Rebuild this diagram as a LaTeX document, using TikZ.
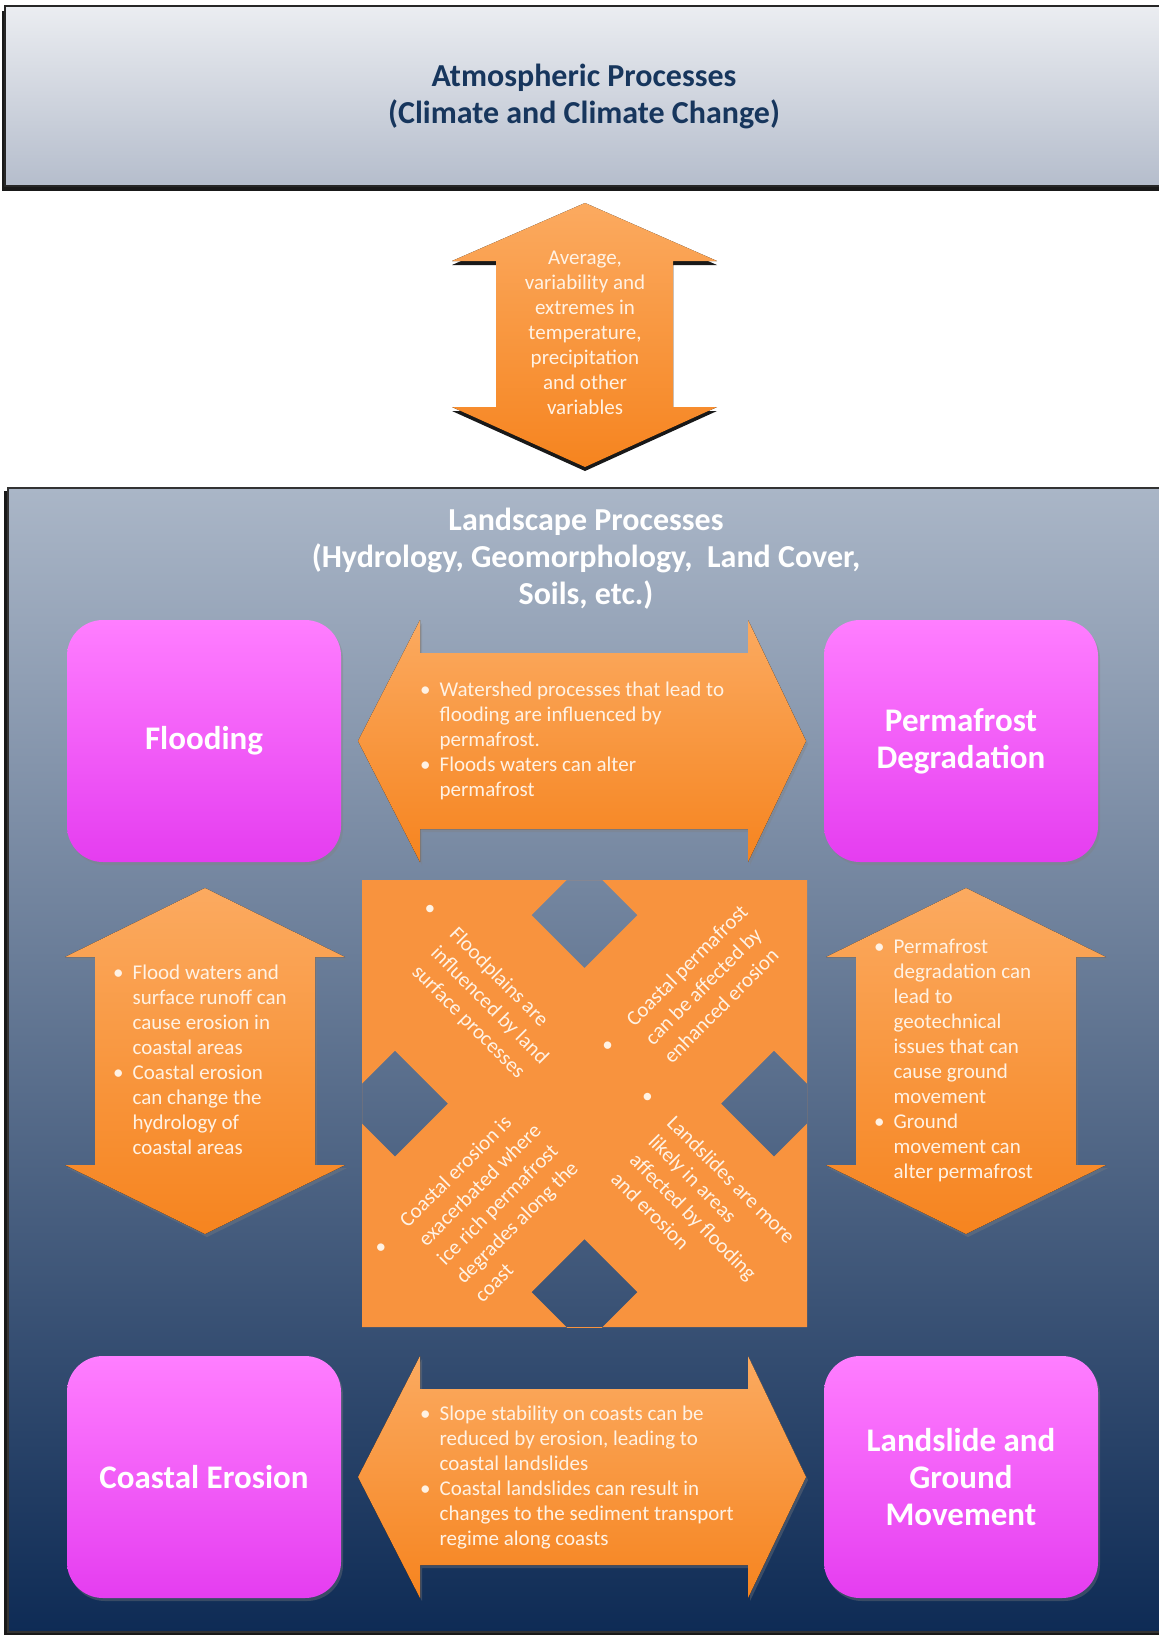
\documentclass[tikz,border=0pt]{standalone}
\usepackage{fontspec}
\setmainfont{Carlito}
\usetikzlibrary{shadows}

\definecolor{navytext}{HTML}{17365D}
\definecolor{atmtop}{HTML}{EBEDF1}
\definecolor{atmbot}{HTML}{B5BDCC}
\definecolor{landtop}{HTML}{AAB6C7}
\definecolor{landbot}{HTML}{0E2B55}
\definecolor{magtop}{HTML}{FF7EFF}
\definecolor{magbot}{HTML}{E53DF0}
\definecolor{orgtop}{HTML}{FBAA60}
\definecolor{orgbot}{HTML}{F6841F}
\definecolor{xorange}{HTML}{F8933E}
\definecolor{arrowtxt}{HTML}{FFF2E4}

\newcommand{\blist}[2]{\begin{tabular}{@{}l@{\hspace{#1}}l@{}}#2\end{tabular}}

\tikzset{
  titletext/.style={font=\bfseries\fontsize{32}{37}\selectfont, align=center},
  softshadow/.style={drop shadow={shadow xshift=2pt, shadow yshift=-3pt, opacity=.35}},
  hardshadow/.style={drop shadow={shadow xshift=0pt, shadow yshift=-4pt, opacity=.9, fill=black}},
  magbox/.style={rounded corners=36pt, top color=magtop, bottom color=magbot, softshadow,
    minimum width=274pt, minimum height=242pt, text=white,
    font=\bfseries\fontsize{33}{37}\selectfont, align=center},
  orangearrow/.style={top color=orgtop, bottom color=orgbot},
  arrowtext/.style={font=\fontsize{21}{25}\selectfont, text=arrowtxt, inner sep=0pt},
  xtext/.style={font=\fontsize{21}{26.5}\selectfont, text=arrowtxt, inner sep=0pt},
}

\begin{document}
\begin{tikzpicture}[x=1pt, y=-1pt]
  \useasboundingbox (0,0) rectangle (1159,1636);
  \fill[white] (0,0) rectangle (1159,1636);

  % atmosphere box
  \node[draw=black!85, line width=2pt, top color=atmtop, bottom color=atmbot,
    drop shadow={shadow xshift=-3pt, shadow yshift=-5pt, opacity=.9, fill=black},
    minimum width=1158pt, minimum height=180pt, text=navytext, titletext] (atmos) at (584,96)
    {Atmospheric Processes\\(Climate and Climate Change)};

  % landscape box
  \draw[draw=black!80, line width=2pt, top color=landtop, bottom color=landbot,
    drop shadow={shadow xshift=-4pt, shadow yshift=-3pt, opacity=.9, fill=black}]
    (8,488) rectangle (1170,1632);
  \node[titletext, text=white] (land) at (586,559)
    {Landscape Processes\\(Hydrology, Geomorphology,\ \ Land Cover,\\Soils, etc.)};

  % the four processes
  \node[magbox] (flood) at (204,741) {Flooding};
  \node[magbox] (perma) at (961,741) {Permafrost\\Degradation};
  \node[magbox] (coast) at (204,1477) {Coastal Erosion};
  \node[magbox] (slide) at (961,1477) {Landslide and\\Ground\\Movement};

  % climate arrow
  \fill[orangearrow, hardshadow] (585,203) -- (717,261) -- (673,261) -- (673,407) -- (717,407)
    -- (585,467) -- (452,407) -- (496,407) -- (496,261) -- (452,261) -- cycle;
  \node[arrowtext, align=center] (climvar) at (585,333)
    {Average,\\variability and\\extremes in\\temperature,\\precipitation\\and other\\variables};

  % side arrows
  \foreach \cx in {205,966}
    \fill[orangearrow, softshadow] (\cx,888) -- (\cx+140,957) -- (\cx+110,957) -- (\cx+110,1165)
      -- (\cx+140,1165) -- (\cx,1234) -- (\cx-140,1165) -- (\cx-110,1165) -- (\cx-110,957)
      -- (\cx-140,957) -- cycle;

  % top and bottom arrows
  \foreach \cy in {741,1477}
    \fill[orangearrow, softshadow] (358,\cy) -- (420,\cy-121) -- (420,\cy-88) -- (748,\cy-88)
      -- (748,\cy-121) -- (806,\cy) -- (748,\cy+121) -- (748,\cy+88) -- (420,\cy+88)
      -- (420,\cy+121) -- cycle;

  % cross arrow
  \begin{scope}
    \clip (362,880) rectangle (807,1327);
    \fill[xorange, even odd rule] (362,880) rectangle (807,1327)
      \foreach \cx/\cy in {584.5/915, 584.5/1292, 395/1103.5, 774/1103.5}
        {(\cx,\cy-53) -- ++(53,53) -- ++(-53,53) -- ++(-53,-53) -- cycle};
  \end{scope}

  \node[arrowtext, anchor=west] (watershed) at (420,741)
    {\blist{9pt}{\textbullet & Watershed processes that lead to\\
      & flooding are influenced by\\
      & permafrost.\\
      \textbullet & Floods waters can alter\\
      & permafrost}};
  \node[arrowtext, anchor=west] (slope) at (420,1478)
    {\blist{9pt}{\textbullet & Slope stability on coasts can be\\
      & reduced by erosion, leading to\\
      & coastal landslides\\
      \textbullet & Coastal landslides can result in\\
      & changes to the sediment transport\\
      & regime along coasts}};
  \node[arrowtext, anchor=west] (runoff) at (113,1062)
    {\blist{9pt}{\textbullet & Flood waters and\\
      & surface runoff can\\
      & cause erosion in\\
      & coastal areas\\
      \textbullet & Coastal erosion\\
      & can change the\\
      & hydrology of\\
      & coastal areas}};
  \node[arrowtext, anchor=west] (geotech) at (874,1061)
    {\blist{9pt}{\textbullet & Permafrost\\
      & degradation can\\
      & lead to\\
      & geotechnical\\
      & issues that can\\
      & cause ground\\
      & movement\\
      \textbullet & Ground\\
      & movement can\\
      & alter permafrost}};

  % rotated texts in the cross
  \node[xtext, rotate=-45, anchor=west] (floodplain) at (407,924)
    {\blist{27pt}{\textbullet & Floodplains are\\ & influenced by land\\ & surface processes}};
  \node[xtext, rotate=45, anchor=west] (coastperm) at (623,1069)
    {\blist{27pt}{\textbullet & Coastal permafrost\\ & can be affected by\\ & enhanced erosion}};
  \node[xtext, rotate=45, anchor=west] (icerich) at (415,1289)
    {\blist{27pt}{\textbullet & Coastal erosion is\\ & exacerbated where\\ & ice rich permafrost\\
      & degrades along the\\ & coast}};
  \node[xtext, rotate=-45, anchor=west] (slides) at (615,1122)
    {\blist{27pt}{\textbullet & Landslides are more\\ & likely in areas\\ & affected by flooding\\
      & and erosion}};
\end{tikzpicture}
\end{document}
